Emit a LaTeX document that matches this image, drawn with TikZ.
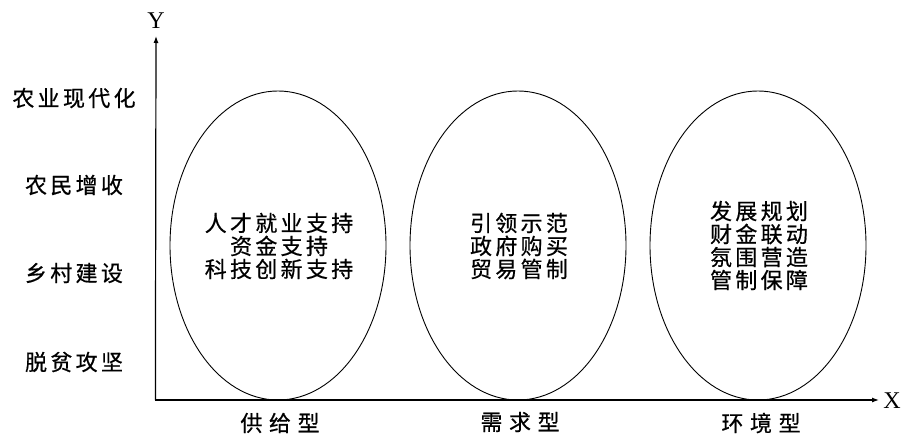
\documentclass[tikz,border=0pt]{standalone}
\usepackage{fontspec}
\usetikzlibrary{arrows.meta,shapes.geometric}
\newfontfamily\cjkin[LetterSpace=15,FakeBold=0.6]{Noto Sans CJK SC}
\newfontfamily\cjkbot[LetterSpace=30,FakeBold=0.6]{Noto Sans CJK SC}
\newfontfamily\latinser{Liberation Serif}
\tikzset{
  oval/.style={draw=black, line width=0.9pt, ellipse, minimum width=216pt, minimum height=309pt, inner sep=0pt},
  intext/.style={align=center, inner sep=0pt, font=\cjkin\fontsize{22}{23}\selectfont},
  ylab/.style={anchor=center, inner sep=0pt, font=\cjkin\fontsize{22}{23}\selectfont},
  xlab/.style={anchor=center, inner sep=0pt, font=\cjkbot\fontsize{22}{23}\selectfont},
  axis/.style={line width=1.2pt, -{Latex[length=7pt,width=5pt]}},
  axlab/.style={inner sep=0pt, font=\latinser\fontsize{24}{24}\selectfont}
}
\begin{document}
\begin{tikzpicture}[x=1pt,y=-1pt]
\useasboundingbox (0,0) rectangle (901,436);
\coordinate (o) at (156,400);
\coordinate (ytip) at (156,36);
\coordinate (xtip) at (879,400);
\draw[axis] (155.4,400) -- (ytip);
\draw[axis] (155.4,400) -- (xtip);
\node[axlab] (Y) at (156,21) {Y};
\node[axlab] (X) at (892,401) {X};

\node[oval] (e1) at (278,245.5) {};
\node[oval] (e2) at (518,245.5) {};
\node[oval] (e3) at (758,245.5) {};

\node[intext] (t1) at (279,246) {人才就业支持\\资金支持\\科技创新支持};
\node[intext] (t2) at (519,246) {引领示范\\政府购买\\贸易管制};
\node[intext] (t3) at (759,245.5) {发展规划\\财金联动\\氛围营造\\管制保障};

\node[ylab] (l1) at (74,98) {农业现代化};
\node[ylab] (l2) at (74,185) {农民增收};
\node[ylab] (l3) at (74,273) {乡村建设};
\node[ylab] (l4) at (74,362) {脱贫攻坚};

\node[xlab] (b1) at (280,423) {供给型};
\node[xlab] (b2) at (520,422) {需求型};
\node[xlab] (b3) at (761,423) {环境型};
\end{tikzpicture}
\end{document}
